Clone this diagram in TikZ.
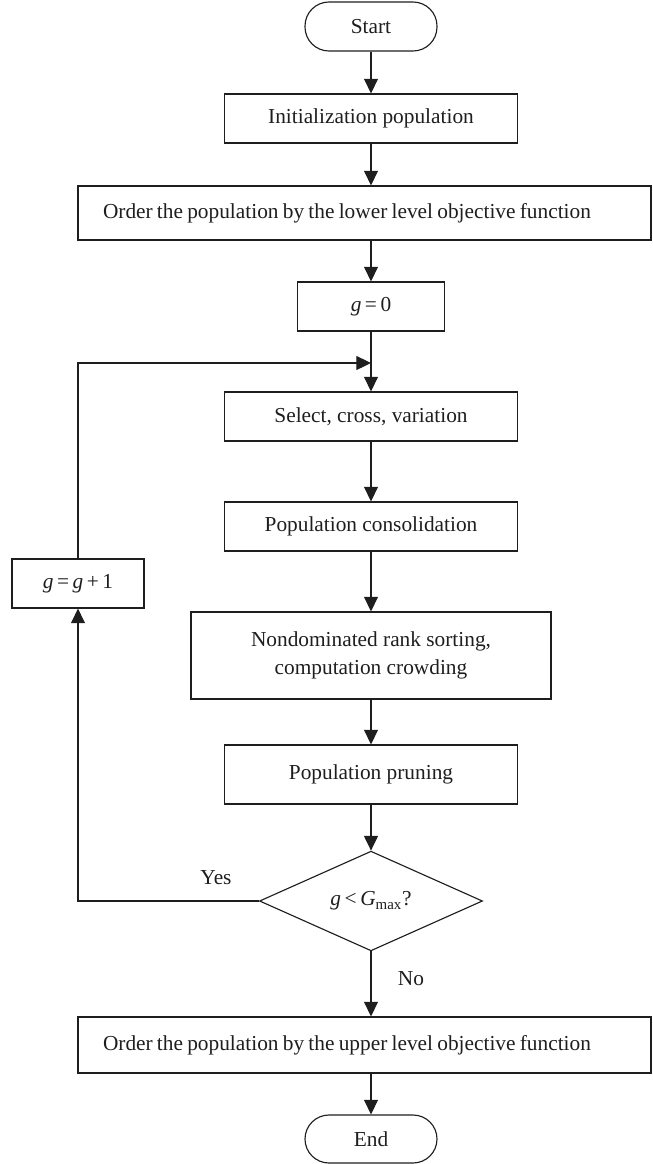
\documentclass[tikz,border=0pt]{standalone}
\usepackage{fontspec}
\setmainfont{Liberation Serif}
\usetikzlibrary{arrows.meta,shapes.geometric}
\definecolor{ink}{HTML}{1E1E1E}
\newcommand\mytightsp{\spaceskip=0.2em plus 0.05em minus 0.05em\relax}
\begin{document}
\begin{tikzpicture}[x=0.75pt,y=-0.75pt,
  every node/.style={text=ink,font=\fontsize{16}{21}\selectfont},
  box/.style={draw=ink,line width=0.85pt,rectangle,inner sep=0pt,minimum height=36.75pt,align=center},
  term/.style={box,rounded corners=18pt,minimum width=99pt},
  widebox/.style={box,minimum width=429.75pt,text width=392.25pt,inner xsep=18.75pt,align=left},
  decision/.style={draw=ink,line width=0.85pt,diamond,inner sep=0pt,minimum width=167.25pt,minimum height=74.25pt},
  arr/.style={draw=ink,line width=0.85pt,-{Triangle[length=11pt,width=10.5pt]}},
  lbl/.style={inner sep=0pt}]
\useasboundingbox (0,0) rectangle (653,1164);
\node[term] (start) at (371,26.5) {Start};
\node[box,minimum width=219.75pt] (init) at (371,118.5) {Initialization population};
\node[widebox,minimum height=40.5pt] (ordlow) at (364.5,213) {\mytightsp Order the population by the lower level objective function};
\node[box,minimum width=110.25pt] (g0) at (371,306.5) {\textit{g}\,=\,0};
\coordinate (loopc) at (371,363);
\node[box,minimum width=219.75pt] (sel) at (371,416.5) {Select, cross, variation};
\node[box,minimum width=219.75pt] (cons) at (371,526.5) {Population consolidation};
\node[box,minimum width=99pt] (gg) at (78,583.5) {\textit{g}\,=\,\textit{g}\,+\,1};
\node[box,minimum width=270pt,minimum height=65.25pt] (nd) at (371,655.5) {Nondominated rank sorting,\\computation crowding};
\node[box,minimum width=219.75pt,minimum height=44.25pt] (prune) at (371,774.5) {Population pruning};
\node[decision] (dec) at (371,901) {\textit{g}\,<\,\textit{G}\textsubscript{max}?};
\node[widebox,minimum height=42pt] (ordup) at (364.5,1045) {\mytightsp Order the population by the upper level objective function};
\node[term,minimum height=36pt] (endn) at (371,1139) {End};
\node[lbl] (yes) at (216,878) {Yes};
\node[lbl] (no) at (411,979) {No};
\draw[arr] (start) -- (init);
\draw[arr] (init.south) -- (init.south |- ordlow.north);
\draw[arr] (init.south |- ordlow.south) -- (g0.north);
\draw[arr] (g0) -- (sel);
\draw[arr] (sel) -- (cons);
\draw[arr] (cons) -- (nd);
\draw[arr] (nd) -- (prune);
\draw[arr] (prune) -- (dec);
\draw[arr] (dec.south) -- (dec.south |- ordup.north);
\draw[arr] (dec.south |- ordup.south) -- (endn.north);
\draw[arr] (dec.west) -| (gg.south);
\draw[arr] (gg.north) |- (loopc);
\end{tikzpicture}
\end{document}
